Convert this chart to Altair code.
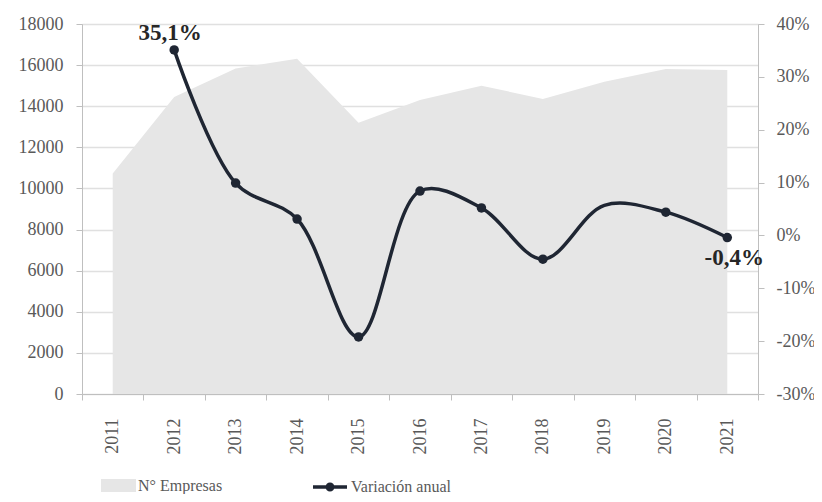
import altair as alt
import pandas as pd

years = ["2011", "2012", "2013", "2014", "2015", "2016", "2017", "2018", "2019", "2020", "2021"]
empresas = [10730, 14450, 15840, 16310, 13200, 14300, 15000, 14350, 15190, 15810, 15760]
variacion = [None, 35.1, 9.9, 3.1, -19.2, 8.4, 5.2, -4.5, 5.7, 4.4, -0.4]
marker = [False, True, True, True, True, True, True, True, False, True, True]
labels = ["", "35,1%", "", "", "", "", "", "", "", "", "-0,4%"]

df = pd.DataFrame({"year": years, "empresas": empresas, "var": variacion,
                   "marker": marker, "label": labels})

FONT = "Liberation Serif"
DARK = "#1f2633"
GRAY_TXT = "#595959"

xenc = alt.X("year:O", scale=alt.Scale(type="band", paddingInner=0, paddingOuter=0),
             axis=alt.Axis(title=None, labelAngle=-90, labelFont=FONT, labelFontSize=18,
                           labelColor=GRAY_TXT, domainColor="#bfbfbf", tickColor="#bfbfbf",
                           tickBand="extent", tickSize=6, labelPadding=18, grid=False,
                           labelBaseline="middle", labelAlign="right"))

area = alt.Chart(df).mark_area(color="#e6e6e6", interpolate="linear").encode(
    x=xenc,
    y=alt.Y("empresas:Q", scale=alt.Scale(domain=[0, 18000]),
            axis=alt.Axis(title=None, values=list(range(0, 18001, 2000)), format="d",
                          labelFont=FONT, labelFontSize=18, labelColor=GRAY_TXT,
                          domainColor="#bfbfbf", tickColor="#bfbfbf", tickSize=6,
                          labelPadding=13, grid=True, gridColor="#e0e0e0", gridWidth=1.5,
                          orient="left")),
    fill=alt.Fill("s:N", scale=alt.Scale(domain=["N° Empresas"], range=["#e6e6e6"]),
                  legend=alt.Legend(title=None, orient="none", legendX=19, legendY=444,
                                    symbolType="M-1,-0.37H1V0.37H-1Z", symbolSize=1225,
                                    symbolStrokeWidth=0, labelFont=FONT, labelFontSize=16,
                                    labelColor=GRAY_TXT, labelOffset=2, padding=0)),
).transform_calculate(s="'N° Empresas'")

yr = alt.Y("var:Q", scale=alt.Scale(domain=[-30, 40]),
           axis=alt.Axis(title=None, values=list(range(-30, 41, 10)), labelExpr="datum.value + '%'",
                         labelFont=FONT, labelFontSize=18, labelColor=GRAY_TXT,
                         domainColor="#bfbfbf", tickColor="#bfbfbf", tickSize=6,
                         labelPadding=12, grid=False, orient="right"))

line = alt.Chart(df).mark_line(strokeWidth=3.5, interpolate="catmull-rom").encode(
    x=xenc, y=yr,
    stroke=alt.Stroke("s:N", scale=alt.Scale(domain=["Variación anual"], range=[DARK]),
                      legend=alt.Legend(title=None, orient="none", legendX=229, legendY=444,
                                        symbolType="M-1,0L1,0M0.16,0A0.16,0.16,0,1,1,-0.16,0A0.16,0.16,0,1,1,0.16,0Z",
                                        symbolSize=1156, symbolStrokeWidth=3.5,
                                        symbolFillColor=DARK, labelFont=FONT, labelFontSize=16,
                                        labelColor=GRAY_TXT, labelOffset=2, padding=0)),
).transform_calculate(s="'Variación anual'").transform_filter("datum['var'] != null")

points = alt.Chart(df).mark_point(filled=True, size=90, color=DARK, opacity=1).encode(
    x=xenc, y=yr
).transform_filter("datum.marker")

text = alt.Chart(df).mark_text(font=FONT, fontSize=23, fontWeight="bold", color="#262626").encode(
    x=xenc, y=yr, text="label:N"
).transform_filter("datum.label != ''")

text1 = text.transform_filter("datum.year == '2012'").mark_text(
    font=FONT, fontSize=23, fontWeight="bold", color="#262626", baseline="bottom", dy=-5, dx=-4)
text2 = text.transform_filter("datum.year == '2021'").mark_text(
    font=FONT, fontSize=23, fontWeight="bold", color="#262626", baseline="top", dy=9, dx=7)

right = alt.layer(line, points, text1, text2)

chart = alt.layer(area, right).resolve_scale(y="independent", fill="independent", stroke="independent").properties(
    width=676, height=370,
    autosize=alt.AutoSizeParams(type="none"),
    padding={"left": 74, "top": 16, "right": 56, "bottom": 100},
).configure_view(stroke=None).configure(background="white", font=FONT).configure_legend(
    labelFont=FONT, labelFontSize=16, labelColor=GRAY_TXT)

chart.save("out.html", embed_options={"renderer": "svg", "actions": False})
